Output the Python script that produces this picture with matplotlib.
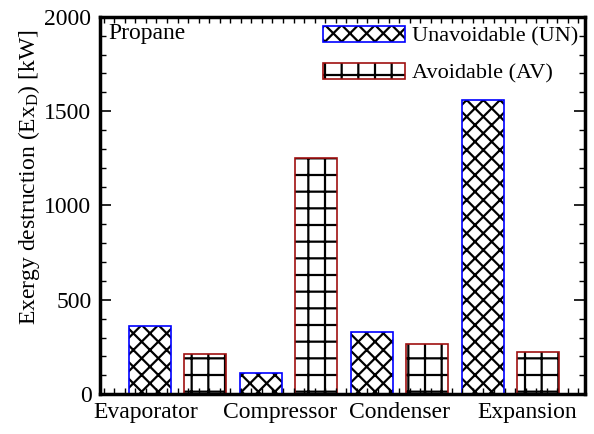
import numpy as np
import matplotlib
matplotlib.use('Agg')
import matplotlib.pyplot as plt
from matplotlib.patches import Patch
from matplotlib.ticker import MultipleLocator, FixedLocator

plt.rcParams['font.family'] = ['Liberation Serif', 'DejaVu Serif']
plt.rcParams['mathtext.fontset'] = 'custom'
plt.rcParams['mathtext.rm'] = 'Liberation Serif'
plt.rcParams['mathtext.it'] = 'Liberation Serif:italic'
plt.rcParams['hatch.linewidth'] = 1.6

components = ['Evaporator', 'Compressor', 'Condenser', 'Expansion']
unavoidable = [360, 110, 330, 1560]
avoidable = [210, 1250, 265, 225]

x = np.arange(len(components))
w = 0.378
off = 0.248

fig = plt.figure(figsize=(5.94, 4.34), dpi=100)
ax = fig.add_axes([0.168, 0.092, 0.817, 0.869])

# hatch in black, then coloured outline on top
ax.bar(x - off, unavoidable, w, color='white', hatch='xx', edgecolor='black', linewidth=0)
ax.bar(x - off, unavoidable, w, fill=False, edgecolor='blue', linewidth=1.2)
ax.bar(x + off, avoidable, w, color='white', hatch='+', edgecolor='black', linewidth=0)
ax.bar(x + off, avoidable, w, fill=False, edgecolor='#a01010', linewidth=1.2)

ax.set_xlim(-0.70, 3.67)
ax.set_ylim(0, 2000)
ax.yaxis.set_major_locator(MultipleLocator(500))
ax.yaxis.set_minor_locator(MultipleLocator(100))
ax.xaxis.set_major_locator(FixedLocator([-0.29, 0.92, 2.0, 3.15]))
ax.set_xticklabels(components)
ax.xaxis.set_minor_locator(MultipleLocator(0.095))
ax.tick_params(axis='x', which='major', length=0, labelsize=17, pad=6)
ax.tick_params(axis='y', which='major', length=8, width=1.2, labelsize=17,
               direction='in', right=True, pad=6)
ax.tick_params(which='minor', length=4, width=1, direction='in',
               top=True, right=True, bottom=True)
for s in ax.spines.values():
    s.set_linewidth(2.5)

ax.set_ylabel(r'Exergy destruction (Ex$_\mathrm{D}$) [kW]', fontsize=17)
ax.yaxis.set_label_coords(-0.12, 0.575)
ax.text(0.017, 0.985, 'Propane', transform=ax.transAxes, fontsize=17,
        va='top', ha='left')

h_un = (Patch(facecolor='white', hatch='xx', edgecolor='black', linewidth=0),
        Patch(fill=False, edgecolor='blue', linewidth=1.2))
h_av = (Patch(facecolor='white', hatch='+', edgecolor='black', linewidth=0),
        Patch(fill=False, edgecolor='#a01010', linewidth=1.2))
ax.legend([h_un, h_av], ['Unavoidable (UN)', 'Avoidable (AV)'],
          loc='upper right', bbox_to_anchor=(1.013, 1.012), frameon=False,
          fontsize=16, handlelength=3.7, handleheight=0.75,
          labelspacing=0.72, handletextpad=0.3, borderaxespad=0.2)

fig.savefig('out.png', dpi=100)
